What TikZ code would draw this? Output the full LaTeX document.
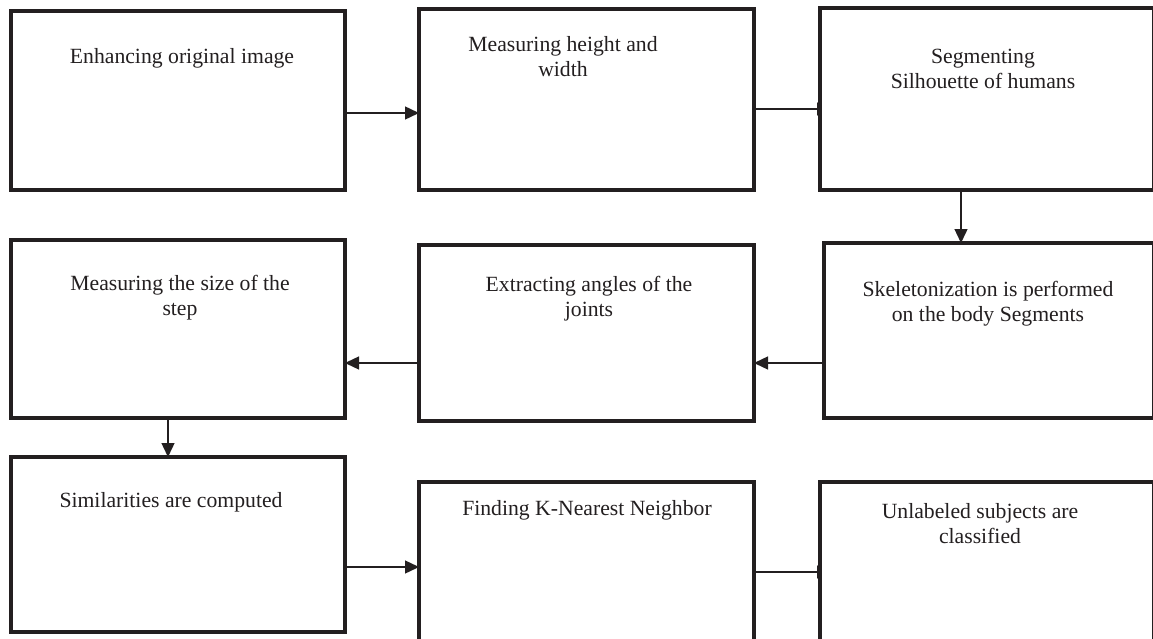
\documentclass[tikz,border=0pt]{standalone}
\usepackage{fontspec}
\setmainfont{Liberation Serif}
\usetikzlibrary{arrows.meta,backgrounds}
\definecolor{ink}{HTML}{231F20}
\begin{document}
\begin{tikzpicture}[x=1pt,y=-1pt,
  box/.style={draw=ink, line width=4pt, fill=white, rectangle, inner sep=0pt, outer sep=0pt},
  txt/.style={align=center, text=ink, inner sep=0pt, font=\fontsize{21.7}{25}\selectfont},
  arr/.style={draw=ink, line width=1.4pt, -{Triangle[length=14pt,width=13pt]}}]
\clip (0,0) rectangle (1153,639);
% boxes
\node[box, minimum width=334pt, minimum height=179pt] (b1) at (178,100.5) {};
\node[box, minimum width=335pt, minimum height=181pt] (b2) at (586.5,99.5) {};
\node[box, minimum width=334pt, minimum height=182pt] (b3) at (987,99) {};
\node[box, minimum width=334pt, minimum height=178pt] (b4) at (178,329) {};
\node[box, minimum width=335pt, minimum height=176pt] (b5) at (586.5,333) {};
\node[box, minimum width=330pt, minimum height=175pt] (b6) at (989,330.5) {};
\node[box, minimum width=334pt, minimum height=175pt] (b7) at (178,544.5) {};
\node[box, minimum width=335pt, minimum height=170pt] (b8) at (586.5,567) {};
\node[box, minimum width=334pt, minimum height=170pt] (b9) at (987,567) {};
% texts
\node[txt] (t1) at (182,58) {Enhancing original image};
\node[txt] (t2) at (563,56.5) {Measuring height and\\width};
\node[txt] (t3) at (983,68.5) {Segmenting\\Silhouette of humans};
\node[txt] (t4) at (180,297.5) {Measuring the size of the\\step};
\node[txt] (t5) at (589,298.5) {Extracting angles of the\\joints};
\node[txt] (t6) at (988,303.5) {Skeletonization is performed\\on the body Segments};
\node[txt] (t7) at (171,502) {Similarities are computed};
\node[txt] (t8) at (587,510) {Finding K-Nearest Neighbor};
\node[txt] (t9) at (980,524) {Unlabeled subjects are\\classified};
% connector levels
\coordinate (y12) at (0,113);
\coordinate (y23) at (0,109);
\coordinate (x36) at (961,0);
\coordinate (y65) at (0,363);
\coordinate (x47) at (168,0);
\coordinate (y78) at (0,567);
\coordinate (y89) at (0,572);
\begin{scope}[on background layer]
\draw[arr] (b1.east |- y12) -- (b2.west |- y12);
\draw[arr] (b2.east |- y23) -- ([xshift=11pt]b3.west |- y23);
\draw[arr] (b3.south -| x36) -- (b6.north -| x36);
\draw[arr] (b6.west |- y65) -- (b5.east |- y65);
\draw[arr] (b5.west |- y65) -- (b4.east |- y65);
\draw[arr] (b4.south -| x47) -- (b7.north -| x47);
\draw[arr] (b7.east |- y78) -- (b8.west |- y78);
\draw[arr] (b8.east |- y89) -- ([xshift=11pt]b9.west |- y89);
\end{scope}
\end{tikzpicture}
\end{document}
